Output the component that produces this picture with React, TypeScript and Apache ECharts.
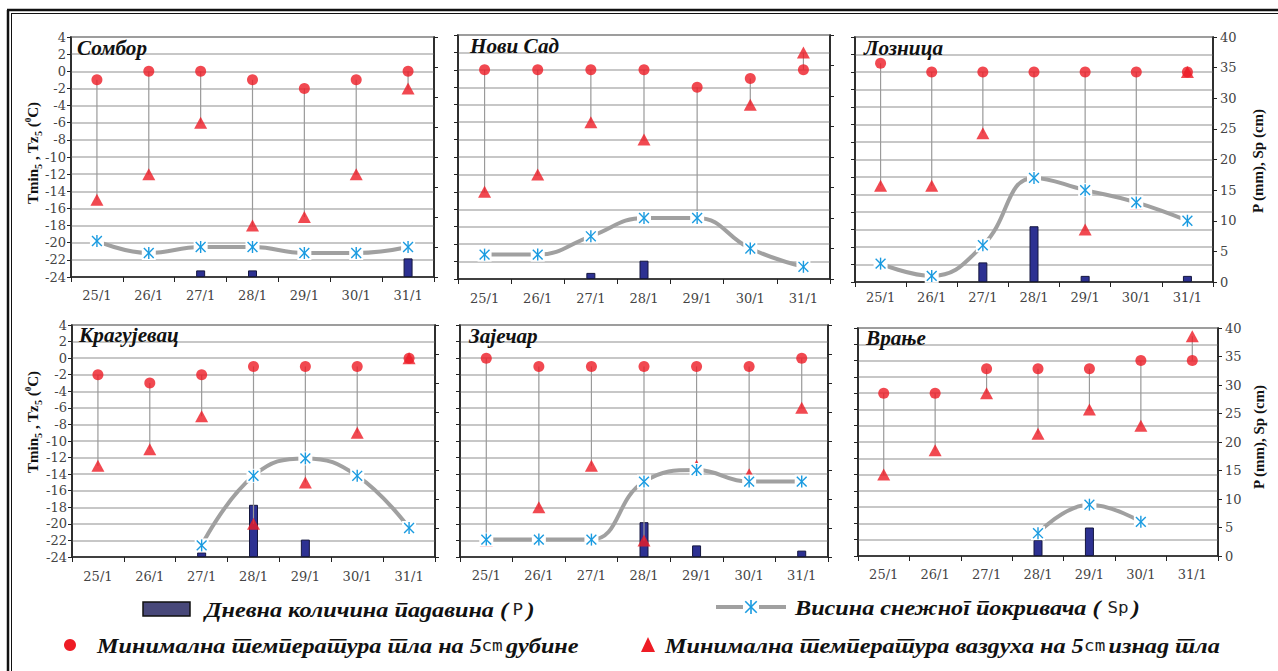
import React, { useEffect, useRef } from "react";
import * as echarts from "echarts";

// ---- data ----
const days = ["25/1", "26/1", "27/1", "28/1", "29/1", "30/1", "31/1"];
const stations = ["Сомбор", "Нови Сад", "Лозница", "Крагујевац", "Зајечар", "Врање"];

// Minimum soil temperature at 5 cm depth (°C)
const soilSombor = [-1, 0, 0, -1, -2, -1, 0];
const soilNoviSad = [0, 0, 0, 0, -2, -1, 0];
const soilLoznica = [1, 0, 0, 0, 0, 0, 0];
const soilKragujevac = [-2, -3, -2, -1, -1, -1, 0];
const soilZajecar = [0, -1, -1, -1, -1, -1, 0];
const soilVranje = [-4, -4, -1, -1, -1, 0, 0];

// Minimum air temperature 5 cm above ground (°C)
const airSombor = [-15, -12, -6, -18, -17, -12, -2];
const airNoviSad = [-14, -12, -6, -8, -17, -4, 2];
const airLoznica = [-13, -13, -7, -12, -18, -15, 0];
const airKragujevac = [-13, -11, -7, -20, -15, -9, 0];
const airZajecar = [-22, -18, -13, -22, -13, -14, -6];
const airVranje = [-14, -11, -4, -9, -6, -8, 3];

// Daily precipitation P (mm)
const precSombor = [0, 0, 1.1, 1.1, 0, 0, 3.1];
const precNoviSad = [0, 0, 1, 3, 0, 0, 0];
const precLoznica = [0, 0, 3.2, 9.1, 1, 0, 1];
const precKragujevac = [0, 0, 0.8, 9, 3, 0, 0];
const precZajecar = [0, 0, 0, 6, 2, 0, 1.1];
const precVranje = [0, 0, 0, 2.8, 5, 0, 0];

// Snow cover height Sp (cm)
const snowSombor = [6, 4, 5, 5, 4, 4, 5];
const snowNoviSad = [4, 4, 7, 10, 10, 5, 2];
const snowLoznica = [3, 1, 6, 17, 15, 13, 10];
const snowKragujevac = [null, null, 2, 14, 17, 14, 5];
const snowZajecar = [3, 3, 3, 13, 15, 13, 13];
const snowVranje = [null, null, null, 4, 9, 6, null];

const tempTicks = { min: -24, max: 4, interval: 2 };
const rightTicks = { min: 0, max: 40, interval: 5 };

const soilSets = [soilSombor, soilNoviSad, soilLoznica, soilKragujevac, soilZajecar, soilVranje];
const airSets = [airSombor, airNoviSad, airLoznica, airKragujevac, airZajecar, airVranje];
const precSets = [precSombor, precNoviSad, precLoznica, precKragujevac, precZajecar, precVranje];
const snowSets = [snowSombor, snowNoviSad, snowLoznica, snowKragujevac, snowZajecar, snowVranje];

// ---- layout ----
const boxes = [
  { left: 71, top: 37, width: 363, height: 240, lab: 12, tx: 77, ty: 48 },
  { left: 458, top: 35, width: 372, height: 244, lab: 13, tx: 470, ty: 46 },
  { left: 855, top: 37, width: 358, height: 245, lab: 9, tx: 864, ty: 48 },
  { left: 72, top: 325, width: 363, height: 232, lab: 13, tx: 79, ty: 335 },
  { left: 460, top: 325, width: 368, height: 232, lab: 12, tx: 469, ty: 336 },
  { left: 858, top: 328, width: 360, height: 228, lab: 12, tx: 866, ty: 338 },
];

const RED = "#ee1c25";
const BLUE = "#1a9be0";
const NAVY = "#2d3192";
const SERIF = "Liberation Serif";
const TICKFONT = "DejaVu Serif";

function asteriskShape(cx: number, cy: number, r: number, lw: number) {
  const d = r * 0.82;
  return [
    { type: "rect", shape: { x: cx - r - 1, y: cy - r - 1, width: 2 * r + 2, height: 2 * r + 2 }, style: { fill: "#fff" } },
    { type: "line", shape: { x1: cx, y1: cy - r, x2: cx, y2: cy + r }, style: { stroke: BLUE, lineWidth: lw } },
    { type: "line", shape: { x1: cx - d, y1: cy - d, x2: cx + d, y2: cy + d }, style: { stroke: BLUE, lineWidth: lw } },
    { type: "line", shape: { x1: cx + d, y1: cy - d, x2: cx - d, y2: cy + d }, style: { stroke: BLUE, lineWidth: lw } },
  ];
}

const nameRich = {
  a: { font: `bold 15px "${SERIF}"`, fill: "#111", lineHeight: 20 },
  s: { font: `bold 10px "${SERIF}"`, fill: "#111", lineHeight: 20, verticalAlign: "bottom" },
  p: { font: `bold 9px "${SERIF}"`, fill: "#111", lineHeight: 20, verticalAlign: "top" },
};

function buildPanels() {
  const grid: any[] = [];
  const xAxis: any[] = [];
  const yAxis: any[] = [];
  const series: any[] = [];
  const graphic: any[] = [];

  boxes.forEach((b, k) => {
    const col = k % 3;
    grid.push({
      left: b.left, top: b.top, width: b.width, height: b.height,
      show: true, borderColor: "#222", borderWidth: 1.5, containLabel: false,
    });
    xAxis.push({
      type: "category", gridIndex: k, data: days, boundaryGap: true, position: "bottom",
      axisLine: { onZero: false, lineStyle: { color: "#222", width: 1.5 } },
      axisTick: { show: true, length: 5, lineStyle: { color: "#222", width: 1 } },
      axisLabel: { fontFamily: TICKFONT, fontSize: 13, color: "#444", margin: b.lab },
      splitLine: { show: false },
    });
    yAxis.push({
      type: "value", gridIndex: k, position: "left",
      min: tempTicks.min, max: tempTicks.max, interval: tempTicks.interval,
      axisLine: { show: true, onZero: false, lineStyle: { color: "#222", width: 1.5 } },
      axisTick: { show: true, length: 4, lineStyle: { color: "#222" } },
      axisLabel: { show: col === 0, fontFamily: TICKFONT, fontSize: 13, color: "#444", margin: 5 },
      splitLine: { show: true, lineStyle: { color: "#b4b4b4", width: 1.5 } },
    });
    yAxis.push({
      type: "value", gridIndex: k, position: "right",
      min: rightTicks.min, max: rightTicks.max, interval: rightTicks.interval,
      axisLine: { show: true, onZero: false, lineStyle: { color: "#222", width: 1.5 } },
      axisTick: { show: true, length: 4, lineStyle: { color: "#222" } },
      axisLabel: { show: col === 2, fontFamily: TICKFONT, fontSize: 13, color: "#444", margin: 7 },
      splitLine: { show: false },
    });

    const yl = 2 * k, yr = 2 * k + 1;
    series.push({
      type: "bar", name: "P", xAxisIndex: k, yAxisIndex: yr,
      data: precSets[k].map((v) => (v === 0 ? "-" : v)), barWidth: 9,
      itemStyle: { color: NAVY, borderColor: "#15173f", borderWidth: 1 }, z: 2,
    });
    series.push({
      type: "custom", name: "range", xAxisIndex: k, yAxisIndex: yl,
      data: soilSets[k].map((v, i) => [i, v, airSets[k][i]]),
      renderItem: (params: any, api: any) => {
        const p1 = api.coord([api.value(0), api.value(1)]);
        const p2 = api.coord([api.value(0), api.value(2)]);
        return { type: "line", shape: { x1: p1[0], y1: p1[1], x2: p2[0], y2: p2[1] }, style: { stroke: "#9a9a9a", lineWidth: 1.2 } };
      },
      z: 3,
    });
    series.push({
      type: "scatter", name: "soil", xAxisIndex: k, yAxisIndex: yl, data: soilSets[k],
      symbol: "circle", symbolSize: 11, itemStyle: { color: RED }, z: 4,
    });
    series.push({
      type: "scatter", name: "air", xAxisIndex: k, yAxisIndex: yl, data: airSets[k],
      symbol: "triangle", symbolSize: [13, 12], itemStyle: { color: RED }, z: 5,
    });
    series.push({
      type: "line", name: "Sp", xAxisIndex: k, yAxisIndex: yr, data: snowSets[k],
      smooth: 0.45, symbol: "none", connectNulls: false,
      lineStyle: { color: "#a0a0a0", width: 4 }, z: 6,
    });
    series.push({
      type: "custom", name: "Sp markers", xAxisIndex: k, yAxisIndex: yr,
      data: snowSets[k].map((v, i) => [i, v]).filter((d) => d[1] !== null),
      renderItem: (params: any, api: any) => {
        const p = api.coord([api.value(0), api.value(1)]);
        return { type: "group", children: asteriskShape(p[0], p[1], 6, 1.4) };
      },
      z: 7,
    });

    graphic.push({
      type: "text", x: b.tx, y: b.ty, z: 20, scaleX: 1.06,
      style: { text: stations[k], font: `italic bold 20px "${SERIF}"`, fill: "#111", verticalAlign: "middle" },
    });
  });

  // axis titles
  const leftName = "{a|Tmin}{s|5}{a| , Tz}{s|5}{a| (}{p|0}{a|C)}";
  graphic.push(
    { type: "text", x: 33, y: 153, rotation: Math.PI / 2, style: { text: leftName, rich: nameRich, align: "center", verticalAlign: "middle" } },
    { type: "text", x: 33, y: 422, rotation: Math.PI / 2, style: { text: leftName, rich: nameRich, align: "center", verticalAlign: "middle" } },
    { type: "text", x: 1258, y: 161, rotation: Math.PI / 2, style: { text: "P (mm), Sp (cm)", font: `bold 15px "${SERIF}"`, fill: "#111", align: "center", verticalAlign: "middle" } },
    { type: "text", x: 1259, y: 437, rotation: Math.PI / 2, style: { text: "P (mm), Sp (cm)", font: `bold 15px "${SERIF}"`, fill: "#111", align: "center", verticalAlign: "middle" } },
  );

  // frame
  graphic.push(
    { type: "line", shape: { x1: 8, y1: 10, x2: 8, y2: 671 }, style: { stroke: "#111", lineWidth: 2.5 } },
    { type: "line", shape: { x1: 11.5, y1: 13, x2: 11.5, y2: 671 }, style: { stroke: "#111", lineWidth: 1 } },
    { type: "line", shape: { x1: 7, y1: 10, x2: 1278, y2: 10 }, style: { stroke: "#111", lineWidth: 2.5 } },
    { type: "line", shape: { x1: 11, y1: 13.5, x2: 1278, y2: 13.5 }, style: { stroke: "#111", lineWidth: 1 } },
  );

  return { animation: false, backgroundColor: "#fff", grid, xAxis, yAxis, series, graphic };
}

const LEG_TOP = 590;

function buildLegend() {
  const lf = `italic bold 22px "${SERIF}"`;
  const rich = {
    b: { font: lf, fill: "#111" },
    m: { font: `16px "DejaVu Sans Mono"`, fill: "#222", padding: [0, 3, 0, 4] },
  };
  const o = LEG_TOP;
  const sx = 1.1;
  const graphic: any[] = [
    { type: "rect", shape: { x: 143, y: 602 - o, width: 47, height: 14 }, style: { fill: "#48487a", stroke: "#111", lineWidth: 1.5 } },
    { type: "text", x: 205, y: 609 - o, scaleX: sx, style: { text: "{b|Дневна количина падавина (}{m|P}{b|)}", rich, verticalAlign: "middle" } },
    { type: "line", shape: { x1: 716, y1: 607 - o, x2: 786, y2: 607 - o }, style: { stroke: "#a0a0a0", lineWidth: 4 } },
    { type: "group", children: asteriskShape(751, 607 - o, 7, 1.6) },
    { type: "text", x: 795, y: 607 - o, scaleX: sx, style: { text: "{b|Висина снежног покривача (}{m|Sp}{b|)}", rich, verticalAlign: "middle" } },
    { type: "circle", shape: { cx: 70, cy: 645 - o, r: 6 }, style: { fill: RED } },
    { type: "text", x: 97, y: 645 - o, scaleX: sx, style: { text: "{b|Минимална температура тла на 5}{m|cm}{b|дубине}", rich, verticalAlign: "middle" } },
    { type: "polygon", shape: { points: [[648, 637 - o], [655, 652 - o], [641, 652 - o]] }, style: { fill: RED } },
    { type: "text", x: 665, y: 645 - o, scaleX: sx, style: { text: "{b|Минимална температура ваздуха на 5}{m|cm}{b|изнад тла}", rich, verticalAlign: "middle" } },
  ];
  return { animation: false, graphic };
}

export default function App() {
  const ref = useRef<HTMLDivElement>(null);
  const legRef = useRef<HTMLDivElement>(null);
  useEffect(() => {
    if (!ref.current || !legRef.current) return;
    const chart = echarts.init(ref.current, undefined, { renderer: "svg" });
    chart.setOption(buildPanels() as any);
    const legend = echarts.init(legRef.current, undefined, { renderer: "svg" });
    legend.setOption(buildLegend() as any);
    return () => {
      chart.dispose();
      legend.dispose();
    };
  }, []);
  return (
    <div style={{ position: "fixed", left: 0, top: 0, width: 1278, height: 671, background: "#fff" }}>
      <div ref={ref} style={{ position: "absolute", left: 0, top: 0, width: 1278, height: 671 }} />
      <div
        ref={legRef}
        lang="sr"
        style={{ position: "absolute", left: 0, top: LEG_TOP, width: 1278, height: 671 - LEG_TOP }}
      />
    </div>
  );
}
